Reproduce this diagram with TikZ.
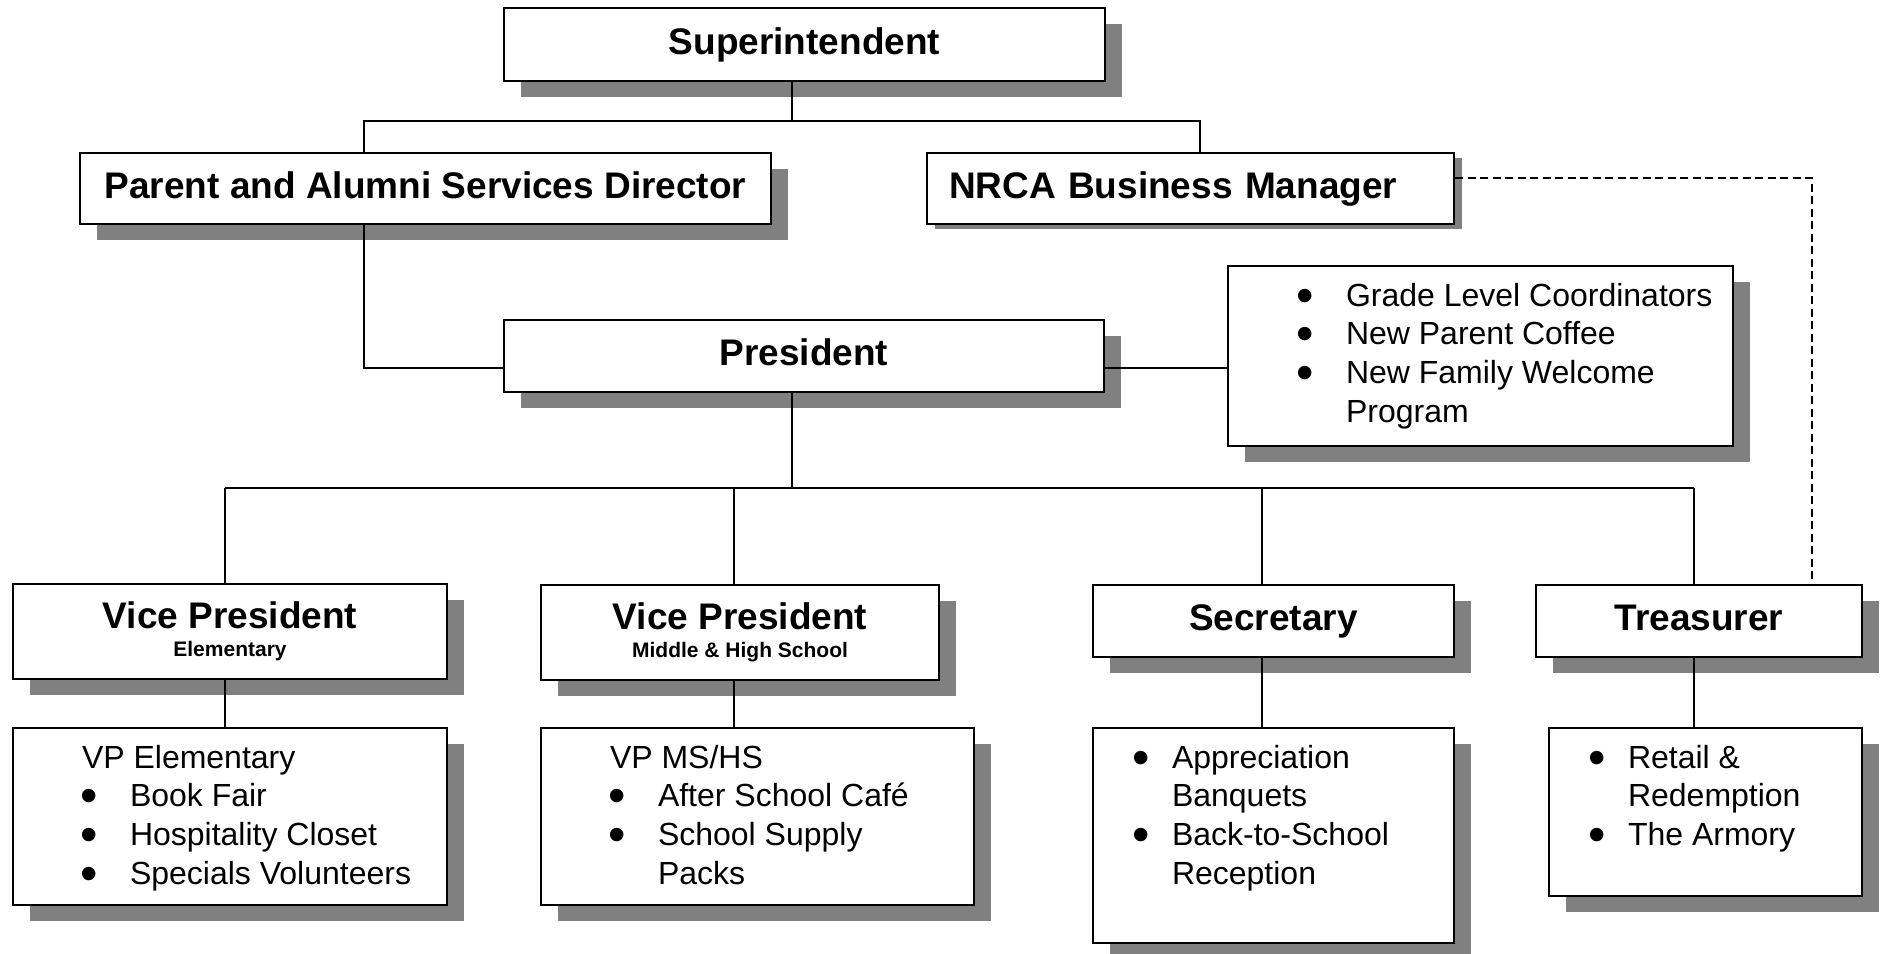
\documentclass[tikz,border=0pt]{standalone}
\usepackage{fontspec}
\setmainfont{Liberation Sans}
\usetikzlibrary{shadows}

\newcommand{\bul}{\raisebox{-6pt}[0pt][0pt]{\scalebox{1.55}{•}}}
\newcommand{\itm}[2][48]{\hangindent=#1pt\hangafter=1\makebox[#1pt][l]{\hspace{-1.5pt}\bul}#2\par}
\newcommand{\lst}[4]{\parbox[c][#1pt][t]{#2pt}{\leftskip=#3pt\relax\rule{0pt}{40pt}#4}}

\tikzset{
	box/.style={draw, line width=2pt, fill=white, inner sep=0pt, anchor=north west},
	shad/.style={drop shadow={shadow xshift=17pt, shadow yshift=-16pt, fill=black!50, opacity=1}},
	title/.style={font=\bfseries\fontsize{37}{28}\selectfont, text height=27pt, text depth=8pt},
	head/.style={box, shad, title},
	vphead/.style={box, shad, font=\bfseries\fontsize{37}{28}\selectfont, align=center},
	duty/.style={box, shad, font=\fontsize{32}{38.7}\selectfont},
	link/.style={line width=1.3pt}
}

\begin{document}
\begin{tikzpicture}[x=1pt, y=-1pt]
				\useasboundingbox (0,0) rectangle (1881,953);

				\node[head, minimum width=601pt, minimum height=73pt] (sup) at (503,7) {Superintendent};
				\node[head, minimum width=691pt, minimum height=71pt] (parent) at (79,152) {Parent and Alumni Services Director};
				\node[box, title, drop shadow={shadow xshift=8pt, shadow yshift=-5pt, fill=black!50, opacity=1},
					inner xsep=22pt, text width=483pt, align=left, minimum height=71pt] (nrca) at (926,152) {NRCA Business Manager};
				\node[head, minimum width=600pt, minimum height=72pt] (pres) at (503,319) {President};
				\node[duty] (plist) at (1227,265)
				{\lst{180}{505}{70}{\itm{Grade Level Coordinators}\itm{New Parent Coffee}\itm{New Family Welcome\newline Program}}};

				\node[vphead, minimum width=434pt, minimum height=95pt] (vpe) at (12,583)
				{Vice President\\{\fontsize{21}{28}\selectfont Elementary}};
				\node[vphead, minimum width=398pt, minimum height=95pt] (vpm) at (540,584)
				{Vice President\\{\fontsize{21}{28}\selectfont Middle \& High School}};
				\node[head, minimum width=361pt, minimum height=72pt] (sec) at (1092,584) {Secretary};
				\node[head, minimum width=326pt, minimum height=72pt] (tre) at (1535,584) {Treasurer};

				\node[duty] (lvpe) at (12,727)
				{\lst{177}{434}{69}{VP Elementary\par\itm{Book Fair}\itm{Hospitality Closet}\itm{Specials Volunteers}}};
				\node[duty] (lvpm) at (540,727)
				{\lst{177}{433}{69}{VP MS/HS\par\itm{After School Café}\itm{School Supply\newline Packs}}};
				\node[duty] (lsec) at (1092,727)
				{\lst{215}{361}{41}{\itm[38]{Appreciation\newline Banquets}\itm[38]{Back-to-School\newline Reception}}};
				\node[duty] (ltre) at (1548,727)
				{\lst{168}{313}{41}{\itm[38]{Retail \&\newline Redemption}\itm[38]{The Armory}}};

				\coordinate (busA) at (792,121);
				\coordinate (pa) at (364,121);
				\coordinate (nr) at (1200,121);
				\coordinate (pp) at (364,368);
				\coordinate (busB) at (792,488);
				\coordinate (dsh) at (1812,178);

				\draw[link] (sup.south -| busA) -- (busA);
				\draw[link] (pa |- parent.north) -- (pa) -- (nr) -- (nr |- nrca.north);
				\draw[link] (pa |- parent.south) -- (pp) -- (pp -| pres.west);
				\draw[link] (pp -| pres.east) -- (pp -| plist.west);
				\draw[link] (busB |- pres.south) -- (busB);
				\draw[link, dash pattern=on 8pt off 4.5pt] (dsh -| nrca.east) -- (dsh) -- (dsh |- tre.north);

				\coordinate (bl) at ([xshift=-5pt]vpe.north);
				\coordinate (br) at ([xshift=-5pt]tre.north);
				\draw[link] (bl |- busB) -- (br |- busB);
				\foreach \n/\dx in {vpe/-5, vpm/-6, sec/-11.5, tre/-5}
					{
						\coordinate (d) at ([xshift=\dx pt]\n.north);
						\draw[link] (d) -- (d |- busB);
						\draw[link] (d |- \n.south) -- (d |- l\n.north);
					}
\end{tikzpicture}
\end{document}
